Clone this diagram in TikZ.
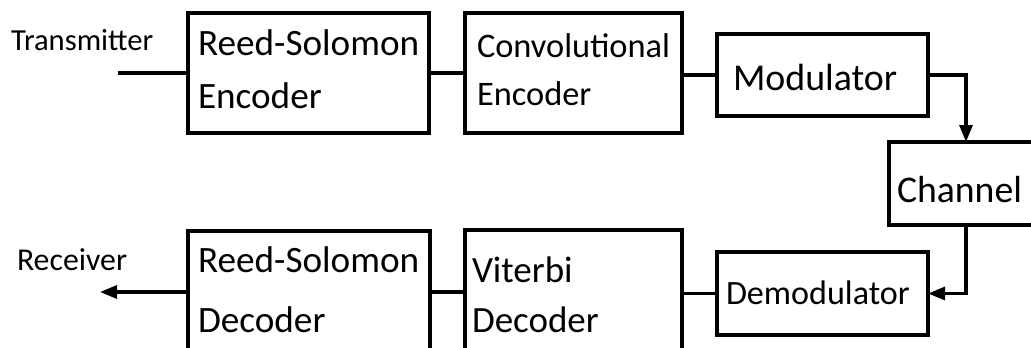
\documentclass[tikz,border=0pt]{standalone}
\usepackage{fontspec}
\setmainfont{Carlito}
\usetikzlibrary{arrows.meta}
\tikzset{
  blk/.style={draw, line width=3.1pt, rectangle, inner sep=0pt, outer sep=0pt},
  lbl/.style={inner sep=0pt, outer sep=0pt, anchor=base west, align=left},
  conn/.style={line width=3.1pt},
  arr/.style={line width=3.1pt, -{Triangle[length=17pt,width=13pt]}},
}
\newcommand{\fs}[2]{\fontsize{#1}{#2}\selectfont}
\begin{document}
\begin{tikzpicture}[x=1pt,y=-1pt]
\useasboundingbox (0,0) rectangle (1031,348);
\clip (0,0) rectangle (1031,348);
\fill[white] (0,0) rectangle (1031,348);
% boxes
\node[blk, minimum width=241pt, minimum height=120pt] (rse) at (308.5,73) {};
\node[blk, minimum width=217pt, minimum height=120pt] (conv) at (573.5,73) {};
\node[blk, minimum width=211pt, minimum height=82pt] (mod) at (822.5,75) {};
\node[blk, minimum width=154pt, minimum height=83pt] (chan) at (966,183.5) {};
\node[blk, minimum width=211pt, minimum height=83pt] (demod) at (822.5,293.5) {};
\node[blk, minimum width=217pt, minimum height=140pt] (vit) at (573.5,300) {};
\node[blk, minimum width=242pt, minimum height=140pt] (rsd) at (309,301) {};
% texts (base anchor = baseline of the last line)
\node[lbl, font=\fs{30.6}{36}] (ttx) at (11,50) {Transmitter};
\node[lbl, font=\fs{31.8}{36}] (trx) at (17,270) {Receiver};
\node[lbl, font=\fs{37.2}{53}] (trse) at (198,108) {Reed-Solomon\\Encoder};
\node[lbl, font=\fs{34.4}{48}] (tconv) at (477,105) {Convolutional\\Encoder};
\node[lbl, font=\fs{37.9}{44}] (tmod) at (733,90) {Modulator};
\node[lbl, font=\fs{37.7}{44}] (tchan) at (897,202) {Channel};
\node[lbl, font=\fs{34.1}{44}] (tdemod) at (726,304) {Demodulator};
\node[lbl, font=\fs{37}{50}] (tvit) at (472,332) {Viterbi\\Decoder};
\node[lbl, font=\fs{37.2}{60}] (trsd) at (198,332) {Reed-Solomon\\Decoder};
% connectors
\coordinate (tin) at (118,73);
\coordinate (rout) at (100,292);
\draw[conn] (tin) -- (rse.west);
\draw[conn] (rse.east) -- (conv.west);
\draw[conn] (conv.east |- mod.west) -- (mod.west);
\draw[arr] (mod.east) -| (chan.north);
\draw[arr] (chan.south) |- (demod.east);
\draw[conn] (demod.west) -- (vit.east |- demod.west);
\draw[conn] (vit.west |- rout) -- (rsd.east |- rout);
\draw[arr] (rsd.west |- rout) -- (rout);
\end{tikzpicture}
\end{document}
